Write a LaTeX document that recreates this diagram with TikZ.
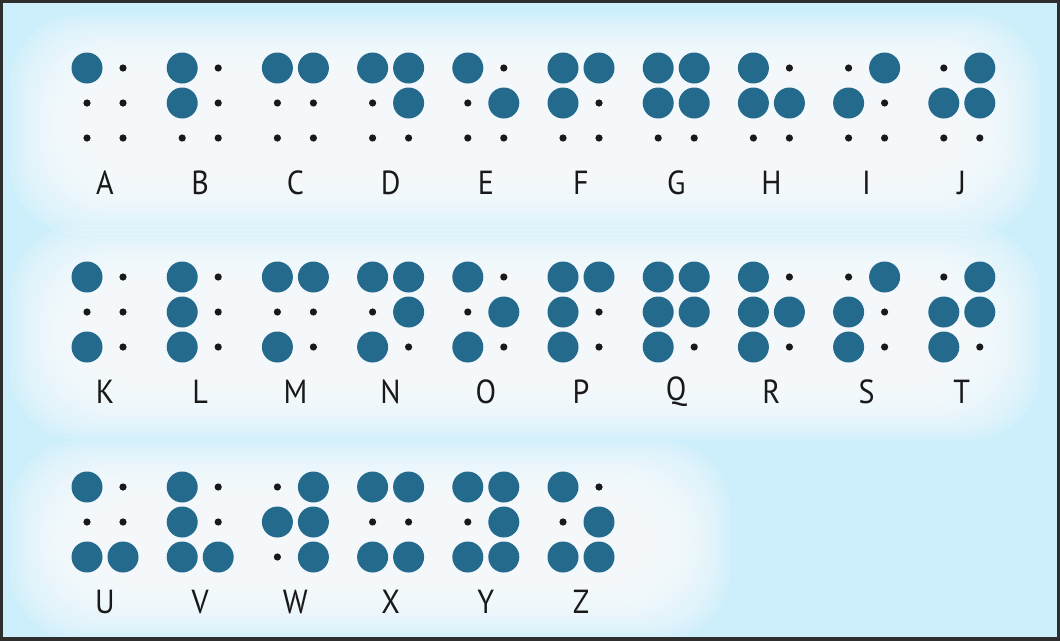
\documentclass[tikz,border=0pt]{standalone}
\usepackage{fontspec}
\setmainfont{PT Sans}
\usepackage{tikz}

\definecolor{bgblue}{HTML}{CDEEFB}
\definecolor{dotblue}{HTML}{236A8C}
\definecolor{frame}{HTML}{2E2E2E}

\tikzset{
  braillebig/.style={fill=dotblue},
  braillesmall/.style={fill=black!90},
  cellletter/.style={font=\fontsize{19}{21}\selectfont,text=black!90,inner sep=0pt,anchor=center,xscale=0.9},
  glow/.style={fill=white,opacity=0.13,rounded corners=40pt}
}

% one dot of a cell: raised (1) or flat (0)
\newcommand\brdot[3]{%
  \ifnum#3=1 \fill[braillebig] (#1,#2) circle[radius=15.5];%
  \else \fill[braillesmall] (#1,#2) circle[radius=3.6];\fi}

% cell: x, top y, letter, dots 1..6
\newcommand\brcell[9]{%
  \brdot{#1}{#2}{#4}\brdot{#1}{#2+35}{#5}\brdot{#1}{#2+70}{#6}%
  \brdot{#1+36}{#2}{#7}\brdot{#1+36}{#2+35}{#8}\brdot{#1+36}{#2+70}{#9}%
  \node[cellletter] (lbl#3) at (#1+18,#2+115) {#3};}

\begin{document}
\begin{tikzpicture}[x=0.02cm,y=-0.02cm]
\useasboundingbox (0,0) rectangle (1060,640);
% Background
\fill[bgblue] (0,0) rectangle (1060,640);
\foreach \k in {0,...,13}{
  \fill[glow] (10+5*\k,15+4*\k) rectangle (1040-5*\k,235-4*\k);
  \fill[glow] (10+5*\k,225+4*\k) rectangle (1040-5*\k,440-4*\k);
  \fill[glow] (10+5*\k,440+4*\k) rectangle (730-5*\k,640-4*\k);
}
% Row 1: A - J
\foreach \i/\lab/\da/\db/\dc/\dd/\de/\df in {
  0/A/1/0/0/0/0/0, 1/B/1/1/0/0/0/0, 2/C/1/0/0/1/0/0, 3/D/1/0/0/1/1/0,
  4/E/1/0/0/0/1/0, 5/F/1/1/0/1/0/0, 6/G/1/1/0/1/1/0, 7/H/1/1/0/0/1/0,
  8/I/0/1/0/1/0/0, 9/J/0/1/0/1/1/0}{
  \brcell{87+95.2*\i}{68}{\lab}{\da}{\db}{\dc}{\dd}{\de}{\df}
}
% Row 2: K - T
\foreach \i/\lab/\da/\db/\dc/\dd/\de/\df in {
  0/K/1/0/1/0/0/0, 1/L/1/1/1/0/0/0, 2/M/1/0/1/1/0/0, 3/N/1/0/1/1/1/0,
  4/O/1/0/1/0/1/0, 5/P/1/1/1/1/0/0, 6/Q/1/1/1/1/1/0, 7/R/1/1/1/0/1/0,
  8/S/0/1/1/1/0/0, 9/T/0/1/1/1/1/0}{
  \brcell{87+95.2*\i}{277}{\lab}{\da}{\db}{\dc}{\dd}{\de}{\df}
}
% Row 3: U - Z
\foreach \i/\lab/\da/\db/\dc/\dd/\de/\df in {
  0/U/1/0/1/0/0/1, 1/V/1/1/1/0/0/1, 2/W/0/1/0/1/1/1,
  3/X/1/0/1/1/0/1, 4/Y/1/0/1/1/1/1, 5/Z/1/0/1/0/1/1}{
  \brcell{87+95.2*\i}{487}{\lab}{\da}{\db}{\dc}{\dd}{\de}{\df}
}
% Frame
\draw[frame,line width=1.8pt] (1,1) rectangle (1059,639);
\end{tikzpicture}
\end{document}
